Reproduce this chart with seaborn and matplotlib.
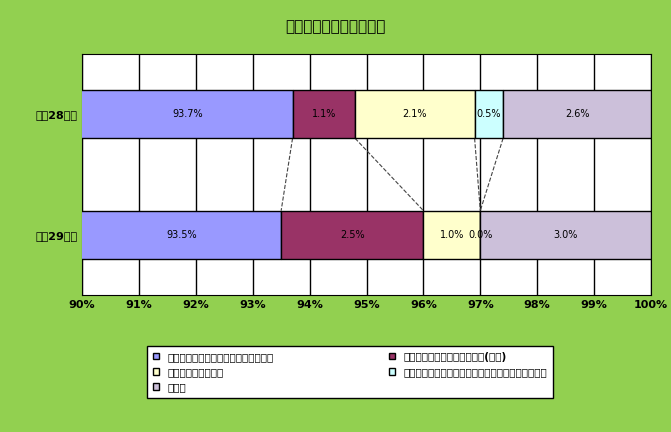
import matplotlib.pyplot as plt
import seaborn as sns
import numpy as np

plt.rcParams['font.family'] = 'Noto Sans CJK JP'

years = ['平成28年度', '平成29年度']
series = ['アドバイスやコメントで対応を終えた', '他の行政機関等に対応を依頼(紹介)',
          '意見や要望を伺った', 'ケアマネやサービス事業者に事実を確認、対応依頼', 'その他']
values = {
    '平成28年度': [93.7, 1.1, 2.1, 0.5, 2.6],
    '平成29年度': [93.5, 2.5, 1.0, 0.0, 3.0],
}
colors = ['#9999FF', '#993366', '#FFFFCC', '#CCFFFF', '#CCC0DA']
xticks = list(range(90, 101))

sns.set_style('white')
fig = plt.figure(figsize=(6.71, 4.32), dpi=100)
fig.set_facecolor('#92D050')
ax = fig.add_axes([82/671, 1-295/432, (651-82)/671, (295-54)/432])
ypos = {'平成28年度': 1, '平成29年度': 0}
h = 0.4
bounds = {}
for yr in years:
    left = 0
    b = []
    for v, c in zip(values[yr], colors):
        ax.barh(ypos[yr], v, left=left, height=h, color=c, edgecolor='black', linewidth=1, zorder=3)
        ax.text(max(left, 90) + (left + v - max(left, 90)) / 2, ypos[yr], f'{v:.1f}%',
                ha='center', va='center', fontsize=7, color='black', zorder=4)
        left += v
        b.append(left)
    bounds[yr] = b
# connector lines
for a, c in zip(bounds['平成28年度'][:-1], bounds['平成29年度'][:-1]):
    ax.plot([a, c], [1 - h/2, h/2], color='#444444', ls='--', lw=0.8, zorder=2)

ax.set_xlim(90, 100)
ax.set_ylim(-0.5, 1.5)
ax.set_xticks(xticks)
ax.set_xticklabels([f'{t}%' for t in xticks], fontsize=8, fontweight='bold', color='black')
ax.set_yticks([1, 0])
ax.set_yticklabels(years, fontsize=8, fontweight='bold', color='black')
ax.tick_params(length=0)
ax.grid(axis='x', color='black', lw=1, zorder=0)
for s in ax.spines.values():
    s.set_color('black')
fig.text(0.5, 1-27/432, '本会の対応状況構成割合', ha='center', va='center',
         fontsize=11, fontweight='bold', color='black')

order = [0, 2, 4, 1, 3]
handles = [plt.Rectangle((0, 0), 1, 1, facecolor=colors[i], edgecolor='black') for i in order]
labels = [series[i] for i in order]
leg = fig.legend(handles, labels, loc='center', bbox_to_anchor=(350/671, 1-372/432), ncol=2,
                 fontsize=7.5, frameon=True, fancybox=False, edgecolor='black', framealpha=1,
                 handlelength=0.6, handleheight=0.6, columnspacing=11, borderpad=0.6,
                 labelspacing=0.5)
leg.get_frame().set_facecolor('white')
for t in leg.get_texts():
    t.set_fontweight('bold')
    t.set_color('black')
fig.savefig('out.png', dpi=100, facecolor=fig.get_facecolor())
